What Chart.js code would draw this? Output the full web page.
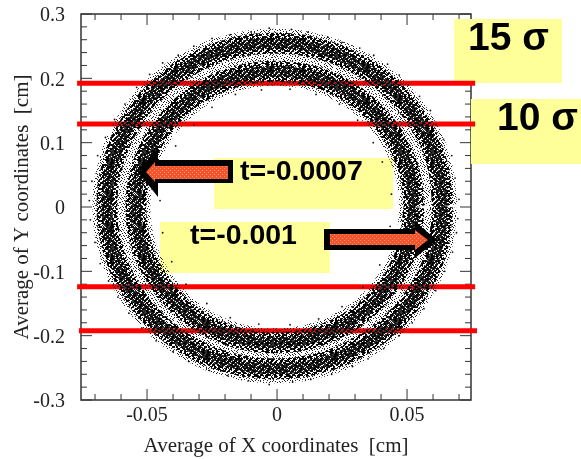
<!DOCTYPE html>
<html>
<head>
<meta charset="utf-8">
<style>
	html, body { margin: 0; padding: 0; background: #fff; }
	canvas { display: block; }
</style>
<script src="https://cdn.jsdelivr.net/npm/chart.js@4/dist/chart.umd.min.js"></script>
</head>
<body>
<canvas id="ringChart" width="581" height="459"></canvas>
<script>
// tick positions and labels
const xTickValues = [-0.07, -0.06, -0.05, -0.04, -0.03, -0.02, -0.01, 0, 0.01, 0.02, 0.03, 0.04, 0.05, 0.06, 0.07];
const xTickLabels = ['-0.05', '0', '0.05'];
const yTickValues = [-0.3, -0.28, -0.26, -0.24, -0.22, -0.2, -0.18, -0.16, -0.14, -0.12, -0.1, -0.08, -0.06, -0.04, -0.02, 0,
	0.02, 0.04, 0.06, 0.08, 0.1, 0.12, 0.14, 0.16, 0.18, 0.2, 0.22, 0.24, 0.26, 0.28, 0.3];
const yTickLabels = ['-0.3', '-0.2', '-0.1', '0', '0.1', '0.2', '0.3'];

// outer band, middle of the band read every 15 degrees
const outerX = [0.0638, 0.0616, 0.0551, 0.0449, 0.0315, 0.0159, -0.0008, -0.0175, -0.0331, -0.0465, -0.0567, -0.0632, -0.0654,
	-0.0632, -0.0567, -0.0465, -0.0331, -0.0175, -0.0008, 0.0159, 0.0315, 0.0449, 0.0551, 0.0616, 0.0638];
const outerY = [0.0016, 0.0672, 0.1282, 0.1805, 0.2208, 0.2461, 0.2547, 0.2461, 0.2208, 0.1805, 0.1282, 0.0672, 0.0016,
	-0.0640, -0.1250, -0.1773, -0.2176, -0.2429, -0.2515, -0.2429, -0.2176, -0.1773, -0.1250, -0.0640, 0.0016];

// inner band
const innerX = [0.0527, 0.0509, 0.0455, 0.0370, 0.0260, 0.0131, -0.0008, -0.0147, -0.0276, -0.0386, -0.0471, -0.0525, -0.0543,
	-0.0525, -0.0471, -0.0386, -0.0276, -0.0147, -0.0008, 0.0131, 0.0260, 0.0370, 0.0455, 0.0509, 0.0527];
const innerY = [0, 0.0547, 0.1056, 0.1493, 0.1829, 0.2040, 0.2112, 0.2040, 0.1829, 0.1493, 0.1056, 0.0547, 0,
	-0.0547, -0.1056, -0.1493, -0.1829, -0.2040, -0.2112, -0.2040, -0.1829, -0.1493, -0.1056, -0.0547, 0];

// loose dots outside and inside the bands
const strayX = [0.0700, 0.0695, 0.0685, 0.0672, 0.0640, 0.0612, 0.0590, 0.0548, 0.0505, 0.0470, 0.0425, 0.0372, 0.0318, 0.0250, 0.0195, 0.0120, 0.0055, -0.0030, -0.0100, -0.0180,
	-0.0250, -0.0320, -0.0380, -0.0440, -0.0490, -0.0540, -0.0585, -0.0625, -0.0660, -0.0690, -0.0712, -0.0722, -0.0718, -0.0700, -0.0680, -0.0648, -0.0612, -0.0570, -0.0520, -0.0465,
	-0.0400, -0.0340, -0.0260, -0.0190, -0.0110, -0.0030, 0.0060, 0.0130, 0.0210, 0.0290, 0.0350, 0.0410, 0.0470, 0.0520, 0.0565, 0.0610, 0.0645, 0.0675, 0.0690,
	0.0440, 0.0435, 0.0405, 0.0370, 0.0310, 0.0240, 0.0150, 0.0050, -0.0060, -0.0160, -0.0250, -0.0320, -0.0390, -0.0430, -0.0450, -0.0440, -0.0405, -0.0350, -0.0270, -0.0180, -0.0070, 0.0050, 0.0160, 0.0250, 0.0330, 0.0395];
const strayY = [0.012, -0.018, 0.045, 0.080, 0.105, 0.128, 0.150, 0.172, 0.190, 0.205, 0.222, 0.236, 0.247, 0.256, 0.264, 0.272, 0.276, 0.278, 0.272, 0.268,
	0.262, 0.250, 0.236, 0.224, 0.206, 0.186, 0.160, 0.136, 0.108, 0.080, 0.040, 0.010, -0.020, -0.055, -0.088, -0.115, -0.140, -0.165, -0.188, -0.208,
	-0.225, -0.240, -0.254, -0.262, -0.270, -0.276, -0.272, -0.268, -0.260, -0.248, -0.236, -0.220, -0.200, -0.180, -0.158, -0.130, -0.100, -0.070, -0.040,
	0.02, -0.03, 0.07, 0.10, 0.135, 0.160, 0.175, 0.183, 0.182, 0.175, 0.155, 0.128, 0.095, 0.06, 0.01, -0.04, -0.085, -0.120, -0.150, -0.172, -0.182, -0.183, -0.174, -0.155, -0.125, -0.090];

// red cut lines
const cutLevels = [0.1925, 0.129, -0.124, -0.1925];
const cutStart = [-0.0769, -0.0769, -0.0769, -0.0762];
const cutEnd = [0.0762, 0.0762, 0.0762, 0.0769];

// speckle tiles for the bands, one hex row per line
const sparseTile = ['41082210', '08820441', '20140892', '82401024', '10290480', '04820912', '49100248', '02448100',
	'90120824', '24084102', '01901048', '48220481', '12048120', '80412409', '24100892', '09024140',
	'40894012', '12204804', '84012091', '10480422', '02249108', '49010840', '20824012', '04112084',
	'81240490', '10098202', '42401048', '08124201', '90020894', '24894010', '01202482', '48041120'];
const grayTile = ['B76DD3AE', '5DB66F59', 'E9DB36B7', '76A5EDDA', 'DB7E5B2D', 'AD93B6F6', '67DD69AB', 'FA37DEDD',
	'9DEA75B6', 'B63BDB6B', '6DD6A7DD', 'DB6D7ABE', 'A7BBD5D7', '7DD66EB9', 'D6AD9B6E', 'BB76F5DB',
	'6DDB2EAD', 'F5A6DB76', 'AE7D59DB', '5BD7B6A7', 'EDB6ED7C', '96EB5BB7', '7B5DB6CD', 'DD6AE7B6',
	'A7DB5D6B', '7AB6F6DD', 'D76D9BAE', '6DBAE75B', 'BD576DB6', 'E6FB9AD7', '5BADD67B', 'F6D76BAD'];
const clumpTile = ['C3379E1C', 'E3B39C0E', '3E67CC39', '9E63C83B', '71F8E3C3', '30F8C7C6', '1CC7F8E7', '8CC778E3',
	'E7339C71', 'E3199C79', '3B8CE71E', '398EC70C', 'C67319E3', 'CE3339C1', '78CC67B8', '7CC8639C',
	'0E73F8C7', '8F31F0E6', 'F1CE1C33', 'E1C61E39', '1E39E78C', '1C79C38E', 'C78E3C71', 'C38C7E73',
	'733C8E1F', '319C8F1E', '8EE371C3', 'CE6331C7', '39CE1C78', '3D8E1E7C', 'E3719CC1', 'C7319EE3'];

function makeSpeckle(ctx, rows, color) {
	const tile = document.createElement('canvas');
	tile.width = 32;
	tile.height = 32;
	const t = tile.getContext('2d');
	t.fillStyle = color;
	rows.forEach((row, y) => {
		const bits = parseInt(row, 16);
		for (let x = 0; x < 32; x++) {
			if ((bits >>> x) & 1) t.fillRect(x, y, 1, 1);
		}
	});
	return ctx.createPattern(tile, 'repeat');
}

function makeArrowFill(ctx) {
	const tile = document.createElement('canvas');
	tile.width = 4;
	tile.height = 4;
	const t = tile.getContext('2d');
	t.fillStyle = '#f4542c';
	t.fillRect(0, 0, 4, 4);
	t.fillStyle = '#ff9a78';
	t.fillRect(0, 0, 1, 1);
	t.fillRect(2, 2, 1, 1);
	return ctx.createPattern(tile, 'repeat');
}

function points(xs, ys) {
	return xs.map((x, i) => ({ x: x, y: ys[i] }));
}

function band(xs, ys, pattern, width) {
	return {
		data: points(xs, ys),
		showLine: true,
		borderColor: pattern,
		borderWidth: width,
		tension: 0.4,
		pointRadius: 0,
		fill: false
	};
}

const canvas = document.getElementById('ringChart');
const ctx = canvas.getContext('2d');
const sparse = makeSpeckle(ctx, sparseTile, '#222');
const gray = makeSpeckle(ctx, grayTile, '#333');
const clump = makeSpeckle(ctx, clumpTile, '#000');
const arrowFill = makeArrowFill(ctx);

const datasets = [
	band(outerX, outerY, sparse, 29),
	band(outerX, outerY, clump, 21),
	band(outerX, outerY, gray, 11),
	band(innerX, innerY, sparse, 29),
	band(innerX, innerY, clump, 21),
	band(innerX, innerY, gray, 11),
	{
		data: points(strayX, strayY),
		pointRadius: 0.9,
		pointBorderWidth: 0,
		pointBackgroundColor: '#111'
	}
];
cutLevels.forEach((level, i) => {
	datasets.push({
		data: [{ x: cutStart[i], y: level }, { x: cutEnd[i], y: level }],
		showLine: true,
		borderColor: '#ff0000',
		borderWidth: 5,
		pointRadius: 0,
		clip: false
	});
});

// yellow boxes, frame and inward ticks go under the marks
const backPlugin = {
	id: 'backPlugin',
	beforeDatasetsDraw(chart) {
		const c = chart.ctx;
		const a = chart.chartArea;
		c.save();
		c.strokeStyle = '#333';
		c.lineWidth = 1.5;
		c.strokeRect(a.left, a.top, a.right - a.left, a.bottom - a.top);
		c.lineWidth = 1;
		c.beginPath();
		chart.scales.x.ticks.forEach(t => {
			const px = chart.scales.x.getPixelForValue(t.value);
			const len = xTickLabels.some(l => Number(l) === t.value) ? 11 : 6;
			c.moveTo(px, a.bottom);
			c.lineTo(px, a.bottom - len);
			c.moveTo(px, a.top);
			c.lineTo(px, a.top + len);
		});
		chart.scales.y.ticks.forEach(t => {
			const py = chart.scales.y.getPixelForValue(t.value);
			const len = yTickLabels.some(l => Number(l) === t.value) ? 11 : 6;
			c.moveTo(a.left, py);
			c.lineTo(a.left + len, py);
			c.moveTo(a.right, py);
			c.lineTo(a.right - len, py);
		});
		c.stroke();
		c.fillStyle = '#ffff99';
		c.fillRect(454, 19, 108, 64);
		c.fillRect(471, 99, 110, 65);
		c.fillRect(214, 158, 179, 51);
		c.fillRect(160, 222, 170, 51);
		c.restore();
	},
	afterDatasetsDraw(chart) {
		const c = chart.ctx;
		c.save();
		// left arrow
		c.fillStyle = '#000';
		c.beginPath();
		c.moveTo(138, 172);
		c.lineTo(158, 147);
		c.lineTo(158, 160);
		c.lineTo(233, 160);
		c.lineTo(233, 183);
		c.lineTo(158, 183);
		c.lineTo(158, 197);
		c.closePath();
		c.fill();
		c.fillStyle = arrowFill;
		c.beginPath();
		c.moveTo(146, 172);
		c.lineTo(155, 162);
		c.lineTo(155, 166);
		c.lineTo(228, 166);
		c.lineTo(228, 179);
		c.lineTo(155, 179);
		c.lineTo(155, 182);
		c.closePath();
		c.fill();
		// right arrow
		c.fillStyle = '#000';
		c.beginPath();
		c.moveTo(437, 240);
		c.lineTo(415, 222);
		c.lineTo(415, 229);
		c.lineTo(324, 229);
		c.lineTo(324, 250);
		c.lineTo(415, 250);
		c.lineTo(415, 258);
		c.closePath();
		c.fill();
		c.fillStyle = arrowFill;
		c.beginPath();
		c.moveTo(428, 240);
		c.lineTo(415, 230);
		c.lineTo(415, 234);
		c.lineTo(330, 234);
		c.lineTo(330, 245);
		c.lineTo(415, 245);
		c.lineTo(415, 250);
		c.closePath();
		c.fill();
		// annotations
		c.fillStyle = '#000';
		c.textBaseline = 'alphabetic';
		c.font = 'bold 39px "Liberation Sans"';
		c.fillText('15 σ', 468, 50);
		c.fillText('10 σ', 497, 130);
		c.font = 'bold 28.5px "Liberation Sans"';
		c.fillText('t=-0.0007', 240, 180);
		c.fillText('t=-0.001', 190, 244);
		c.restore();
	}
};

new Chart(ctx, {
	type: 'scatter',
	data: { datasets: datasets },
	plugins: [backPlugin],
	options: {
		responsive: false,
		animation: false,
		layout: { padding: { top: 14, right: 110, left: 0, bottom: 0 } },
		plugins: {
			legend: { display: false },
			title: { display: false },
			tooltip: { enabled: false }
		},
		scales: {
			x: {
				type: 'linear',
				min: -0.0754,
				max: 0.0746,
				grid: { display: false, tickLength: 0 },
				border: { display: false },
				afterBuildTicks: scale => { scale.ticks = xTickValues.map(v => ({ value: v })); },
				afterFit: scale => {
					scale.height = 59;
					scale.paddingLeft = 0;
					scale.paddingRight = 0;
				},
				ticks: {
					autoSkip: false,
					maxRotation: 0,
					padding: 4,
					color: '#222',
					font: { family: '"Liberation Serif"', size: 20 },
					callback: value => xTickLabels.find(l => Number(l) === value) || ''
				},
				title: {
					display: true,
					text: 'Average of X coordinates  [cm]',
					color: '#222',
					padding: { top: 6, bottom: 0 },
					font: { family: '"Liberation Serif"', size: 21 }
				}
			},
			y: {
				type: 'linear',
				min: -0.3,
				max: 0.3,
				grid: { display: false, tickLength: 0 },
				border: { display: false },
				afterBuildTicks: scale => { scale.ticks = yTickValues.map(v => ({ value: v })); },
				afterFit: scale => {
					scale.width = 81;
					scale.paddingTop = 0;
					scale.paddingBottom = 0;
				},
				ticks: {
					autoSkip: false,
					padding: 16,
					labelOffset: 2,
					color: '#222',
					font: { family: '"Liberation Serif"', size: 20 },
					callback: value => yTickLabels.find(l => Number(l) === value) || ''
				},
				title: {
					display: true,
					text: 'Average of Y coordinates  [cm]',
					color: '#222',
					padding: { top: 10, bottom: 0 },
					font: { family: '"Liberation Serif"', size: 21 }
				}
			}
		}
	}
});
</script>
</body>
</html>
